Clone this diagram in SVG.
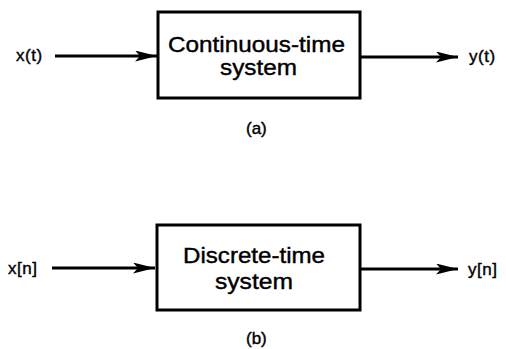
<svg xmlns="http://www.w3.org/2000/svg" width="506" height="349" viewBox="0 0 506 349">
<style>
.box{fill:#fff;stroke:#000;stroke-width:3}
.t{font-family:"Liberation Sans",Arial,sans-serif;fill:#000;stroke:#000;stroke-width:0.4}
.big{font-size:22px}
.sig{font-size:17px;letter-spacing:0.5px}
.cap{font-size:17px}
.wire{stroke:#000;stroke-width:3;fill:none}
</style>
<defs>
<marker id="ah" markerUnits="userSpaceOnUse" markerWidth="24" markerHeight="11" refX="22" refY="5.5" orient="auto">
<path d="M0,0 L22,5.5 L0,11 L5,5.5 Z" fill="#000"/>
</marker>
</defs>
<rect width="506" height="349" fill="#fff"/>
<g id="connectors">
<line class="wire" x1="55" y1="56" x2="157" y2="56" marker-end="url(#ah)"/>
<line class="wire" x1="360" y1="57" x2="458" y2="57" marker-end="url(#ah)"/>
<line class="wire" x1="52" y1="268" x2="155" y2="268" marker-end="url(#ah)"/>
<line class="wire" x1="360" y1="269" x2="458" y2="269" marker-end="url(#ah)"/>
</g>
<g id="ct-system">
<rect class="box" x="158" y="12" width="202" height="86"/>
<text class="t big" x="168" y="52" textLength="177" lengthAdjust="spacingAndGlyphs">Continuous-time</text>
<text class="t big" x="220" y="75" textLength="77" lengthAdjust="spacingAndGlyphs">system</text>
</g>
<g id="dt-system">
<rect class="box" x="157" y="225" width="203" height="85"/>
<text class="t big" x="183" y="263" textLength="142" lengthAdjust="spacingAndGlyphs">Discrete-time</text>
<text class="t big" x="215" y="289" textLength="78" lengthAdjust="spacingAndGlyphs">system</text>
</g>
<g id="labels">
<text class="t sig" x="16" y="61">x(t)</text>
<text class="t sig" x="469" y="62">y(t)</text>
<text class="t sig" x="8" y="274">x[n]</text>
<text class="t sig" x="468" y="275">y[n]</text>
<text class="t cap" x="246" y="134">(a)</text>
<text class="t cap" x="246" y="344">(b)</text>
</g>
</svg>
